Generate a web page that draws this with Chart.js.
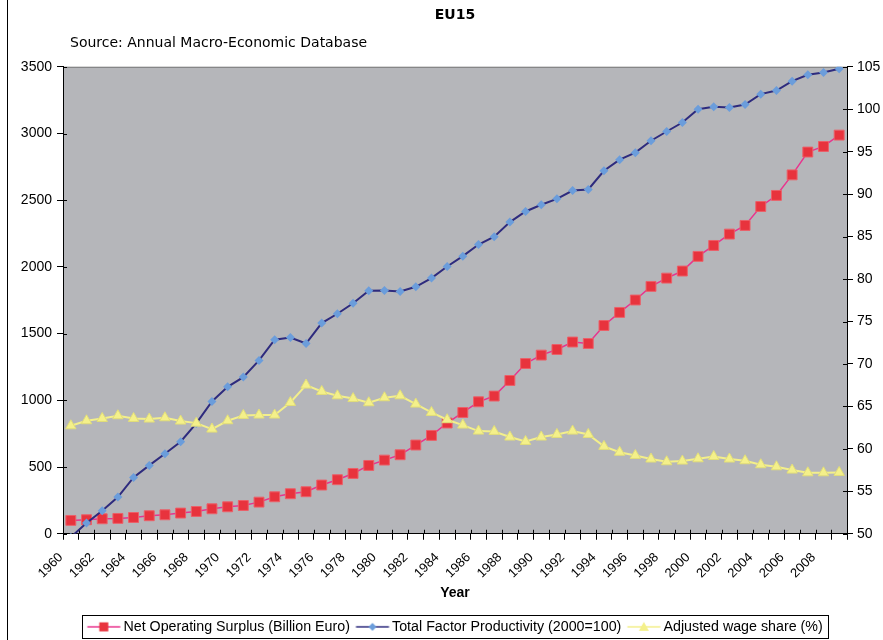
<!DOCTYPE html>
<html><head><meta charset="utf-8">
<script src="https://cdn.jsdelivr.net/npm/chart.js@4"></script>
<style>html,body{margin:0;padding:0;background:#fff;}#wrap{width:883px;height:640px;}</style>
</head><body><div id="wrap"><canvas id="c" width="883" height="640"></canvas></div>
<script>
const years = ['1960','1961','1962','1963','1964','1965','1966','1967','1968','1969',
  '1970','1971','1972','1973','1974','1975','1976','1977','1978','1979',
  '1980','1981','1982','1983','1984','1985','1986','1987','1988','1989',
  '1990','1991','1992','1993','1994','1995','1996','1997','1998','1999',
  '2000','2001','2002','2003','2004','2005','2006','2007','2008','2009'];
const nos = [100,105,112,115,122,135,142,155,167,187,
  202,212,237,277,300,315,365,405,452,512,
  552,592,665,737,830,909,989,1032,1149,1276,
  1339,1381,1437,1426,1561,1659,1752,1854,1916,1969,
  2079,2161,2246,2311,2453,2536,2690,2861,2903,2988];
const tfp = [49.6,51.26,52.71,54.32,56.63,58.05,59.42,60.84,63.0,65.58,
  67.31,68.45,70.41,72.85,73.12,72.41,74.81,75.91,77.15,78.62,
  78.66,78.54,79.09,80.11,81.48,82.70,84.07,84.98,86.71,87.96,
  88.75,89.45,90.43,90.55,92.75,94.06,94.89,96.29,97.38,98.44,
  100.0,100.29,100.21,100.56,101.78,102.21,103.31,104.06,104.33,104.76];
const wage = [62.72,63.31,63.58,63.90,63.58,63.51,63.66,63.27,63.03,62.33,
  63.31,63.94,63.98,63.98,65.46,67.51,66.76,66.25,65.92,65.43,
  66.02,66.25,65.27,64.29,63.43,62.80,62.09,62.05,61.39,60.87,
  61.39,61.70,62.09,61.70,60.29,59.60,59.22,58.80,58.48,58.56,
  58.83,59.10,58.80,58.60,58.13,57.89,57.50,57.18,57.18,57.22];
const seriesNames = ['Net Operating Surplus (Billion Euro)','Total Factor Productivity (2000=100)','Adjusted wage share (%)'];
const titleText = 'EU15';
const subtitleText = 'Source: Annual Macro-Economic Database';
const xTitle = 'Year';

const PLOT_BG = '#b5b6ba';
const C_NOS_LINE = '#e8348e', C_NOS_PT = '#e8333d', C_NOS_PTB = '#ec5f68';
const C_TFP_LINE = '#2e2b7e', C_TFP_PT = '#6b9ddb';
const C_W_LINE = '#f3ef8b', C_W_PT = '#f4f08a', C_W_PTB = '#e2de78';

function makeIcon(lineColor, drawMarker) {
  const cv = document.createElement('canvas');
  cv.width = 40; cv.height = 14;
  const g = cv.getContext('2d');
  g.strokeStyle = lineColor; g.lineWidth = 1.5;
  g.beginPath(); g.moveTo(5.5, 7); g.lineTo(38.5, 7); g.stroke();
  drawMarker(g, 22, 7);
  return cv;
}
const icons = [
  makeIcon(C_NOS_LINE, (g,x,y)=>{ g.fillStyle=C_NOS_PT; g.fillRect(x-4.5,y-4.5,9,9); }),
  makeIcon(C_TFP_LINE, (g,x,y)=>{ g.fillStyle=C_TFP_PT; g.beginPath(); g.moveTo(x,y-4); g.lineTo(x+4,y); g.lineTo(x,y+4); g.lineTo(x-4,y); g.closePath(); g.fill(); }),
  makeIcon(C_W_LINE, (g,x,y)=>{ g.fillStyle=C_W_PT; g.beginPath(); g.moveTo(x,y-5); g.lineTo(x+5,y+4); g.lineTo(x-5,y+4); g.closePath(); g.fill(); })
];

const decor = {
  id: 'decor',
  beforeDraw(chart) {
    const {ctx, chartArea: a} = chart;
    ctx.save();
    ctx.fillStyle = '#fff'; ctx.fillRect(0, 0, chart.width, chart.height);
    ctx.fillStyle = PLOT_BG; ctx.fillRect(a.left, a.top, a.right - a.left, a.bottom - a.top);
    ctx.strokeStyle = '#7a7a7a'; ctx.lineWidth = 1;
    ctx.beginPath(); ctx.moveTo(a.left, a.top + 0.5); ctx.lineTo(a.right, a.top + 0.5); ctx.stroke();
    ctx.strokeStyle = '#000';
    ctx.beginPath(); ctx.moveTo(7.5, 0); ctx.lineTo(7.5, chart.height); ctx.stroke();
    ctx.restore();
  },
  beforeDatasetsDraw(chart) {
    const {ctx, chartArea: a, scales} = chart;
    ctx.save(); ctx.strokeStyle = '#000'; ctx.lineWidth = 1; ctx.beginPath();
    scales.y.ticks.forEach((t, i) => { const y = Math.round(scales.y.getPixelForTick(i)) + 0.5; ctx.moveTo(a.left, y); ctx.lineTo(a.left + 4, y); });
    scales.y1.ticks.forEach((t, i) => { const y = Math.round(scales.y1.getPixelForTick(i)) + 0.5; ctx.moveTo(a.right - 4, y); ctx.lineTo(a.right, y); });
    for (let i = 0; i <= years.length; i++) { const x = Math.round(scales.x.getPixelForValue(i - 0.5)) + 0.5; ctx.moveTo(x, a.bottom - 4); ctx.lineTo(x, a.bottom); }
    ctx.stroke(); ctx.restore();
  },
  afterDraw(chart) {
    const {ctx, chartArea: a} = chart;
    ctx.save();
    ctx.fillStyle = '#000'; ctx.font = '14px "DejaVu Sans"'; ctx.textBaseline = 'alphabetic'; ctx.textAlign = 'left';
    ctx.fillText(subtitleText, a.left + 7, 46.5);
    const hb = chart.legend.legendHitBoxes;
    if (hb && hb.length) {
      const l = Math.min(...hb.map(h => h.left)) - 5;
      const r = Math.max(...hb.map(h => h.left + h.width)) + 6;
      const t = Math.min(...hb.map(h => h.top)) - 5;
      const b = Math.max(...hb.map(h => h.top + h.height)) + 4;
      ctx.strokeStyle = '#000'; ctx.lineWidth = 1;
      ctx.strokeRect(Math.round(l) + 0.5, Math.round(t) + 0.5, Math.round(r - l), Math.round(b - t));
    }
    ctx.restore();
  }
};

const FONT = 'Liberation Sans';
new Chart(document.getElementById('c'), {
  type: 'line',
  data: {
    labels: years,
    datasets: [
      { label: seriesNames[0], data: nos, yAxisID: 'y', borderColor: C_NOS_LINE, borderWidth: 1.5,
        pointStyle: 'rect', pointRadius: 7, pointBackgroundColor: C_NOS_PT, pointBorderColor: C_NOS_PTB, pointBorderWidth: 1, order: 3, tension: 0 },
      { label: seriesNames[1], data: tfp, yAxisID: 'y1', borderColor: C_TFP_LINE, borderWidth: 2,
        pointStyle: 'rectRot', pointRadius: 4.5, pointBackgroundColor: C_TFP_PT, pointBorderColor: C_TFP_PT, pointBorderWidth: 0, order: 2, tension: 0 },
      { label: seriesNames[2], data: wage, yAxisID: 'y1', borderColor: C_W_LINE, borderWidth: 2,
        pointStyle: 'triangle', pointRadius: 6, pointBackgroundColor: C_W_PT, pointBorderColor: C_W_PTB, pointBorderWidth: 1, order: 1, tension: 0 }
    ]
  },
  options: {
    responsive: false, animation: false, devicePixelRatio: 1, events: [],
    layout: { padding: { left: 0, right: 0, top: 0, bottom: -4 } },
    plugins: {
      tooltip: { enabled: false },
      title: { display: true, text: titleText, fullSize: false, color: '#000',
        font: { family: 'DejaVu Sans', size: 14, weight: 'bold' }, padding: { top: 7, bottom: 43 } },
      legend: {
        position: 'bottom', fullSize: false,
        labels: {
          usePointStyle: true, pointStyleWidth: 29, padding: 6, color: '#000',
          font: { family: FONT, size: 14.25 },
          generateLabels(chart) {
            return chart.data.datasets.map((ds, i) => ({ text: ds.label, pointStyle: icons[i], datasetIndex: i,
              hidden: false, fontColor: '#000', lineWidth: 0, strokeStyle: 'rgba(0,0,0,0)', fillStyle: 'rgba(0,0,0,0)' }));
          }
        }
      }
    },
    scales: {
      x: {
        type: 'category', offset: true,
        grid: { offset: true, drawOnChartArea: false, drawTicks: true, tickLength: 6, color: '#000' },
        border: { color: '#000', width: 1 },
        ticks: { autoSkip: false, minRotation: 45, maxRotation: 45, padding: 10, labelOffset: -10, color: '#000',
          font: { family: FONT, size: 13 },
          callback(v, i) { return i % 2 === 0 ? years[i] : ''; } },
        title: { display: true, text: xTitle, color: '#000', font: { family: FONT, size: 14, weight: 'bold' }, padding: { top: 4, bottom: 12 } },
        afterFit(s) { s.height = 80; }
      },
      y: {
        position: 'left', min: 0, max: 3500,
        grid: { drawOnChartArea: false, tickLength: 6, color: '#000' },
        border: { color: '#000', width: 1 },
        ticks: { stepSize: 500, padding: 5, color: '#000', font: { family: FONT, size: 14 }, callback: v => String(v) },
        afterFit(s) { s.width = 63; }
      },
      y1: {
        position: 'right', min: 50, max: 105,
        grid: { drawOnChartArea: false, tickLength: 6, color: '#000' },
        border: { color: '#000', width: 1 },
        ticks: { stepSize: 5, padding: 4, color: '#000', font: { family: FONT, size: 14 }, callback: v => String(v) },
        afterFit(s) { s.width = 36; }
      }
    }
  },
  plugins: [decor]
});
</script>
</body></html>
